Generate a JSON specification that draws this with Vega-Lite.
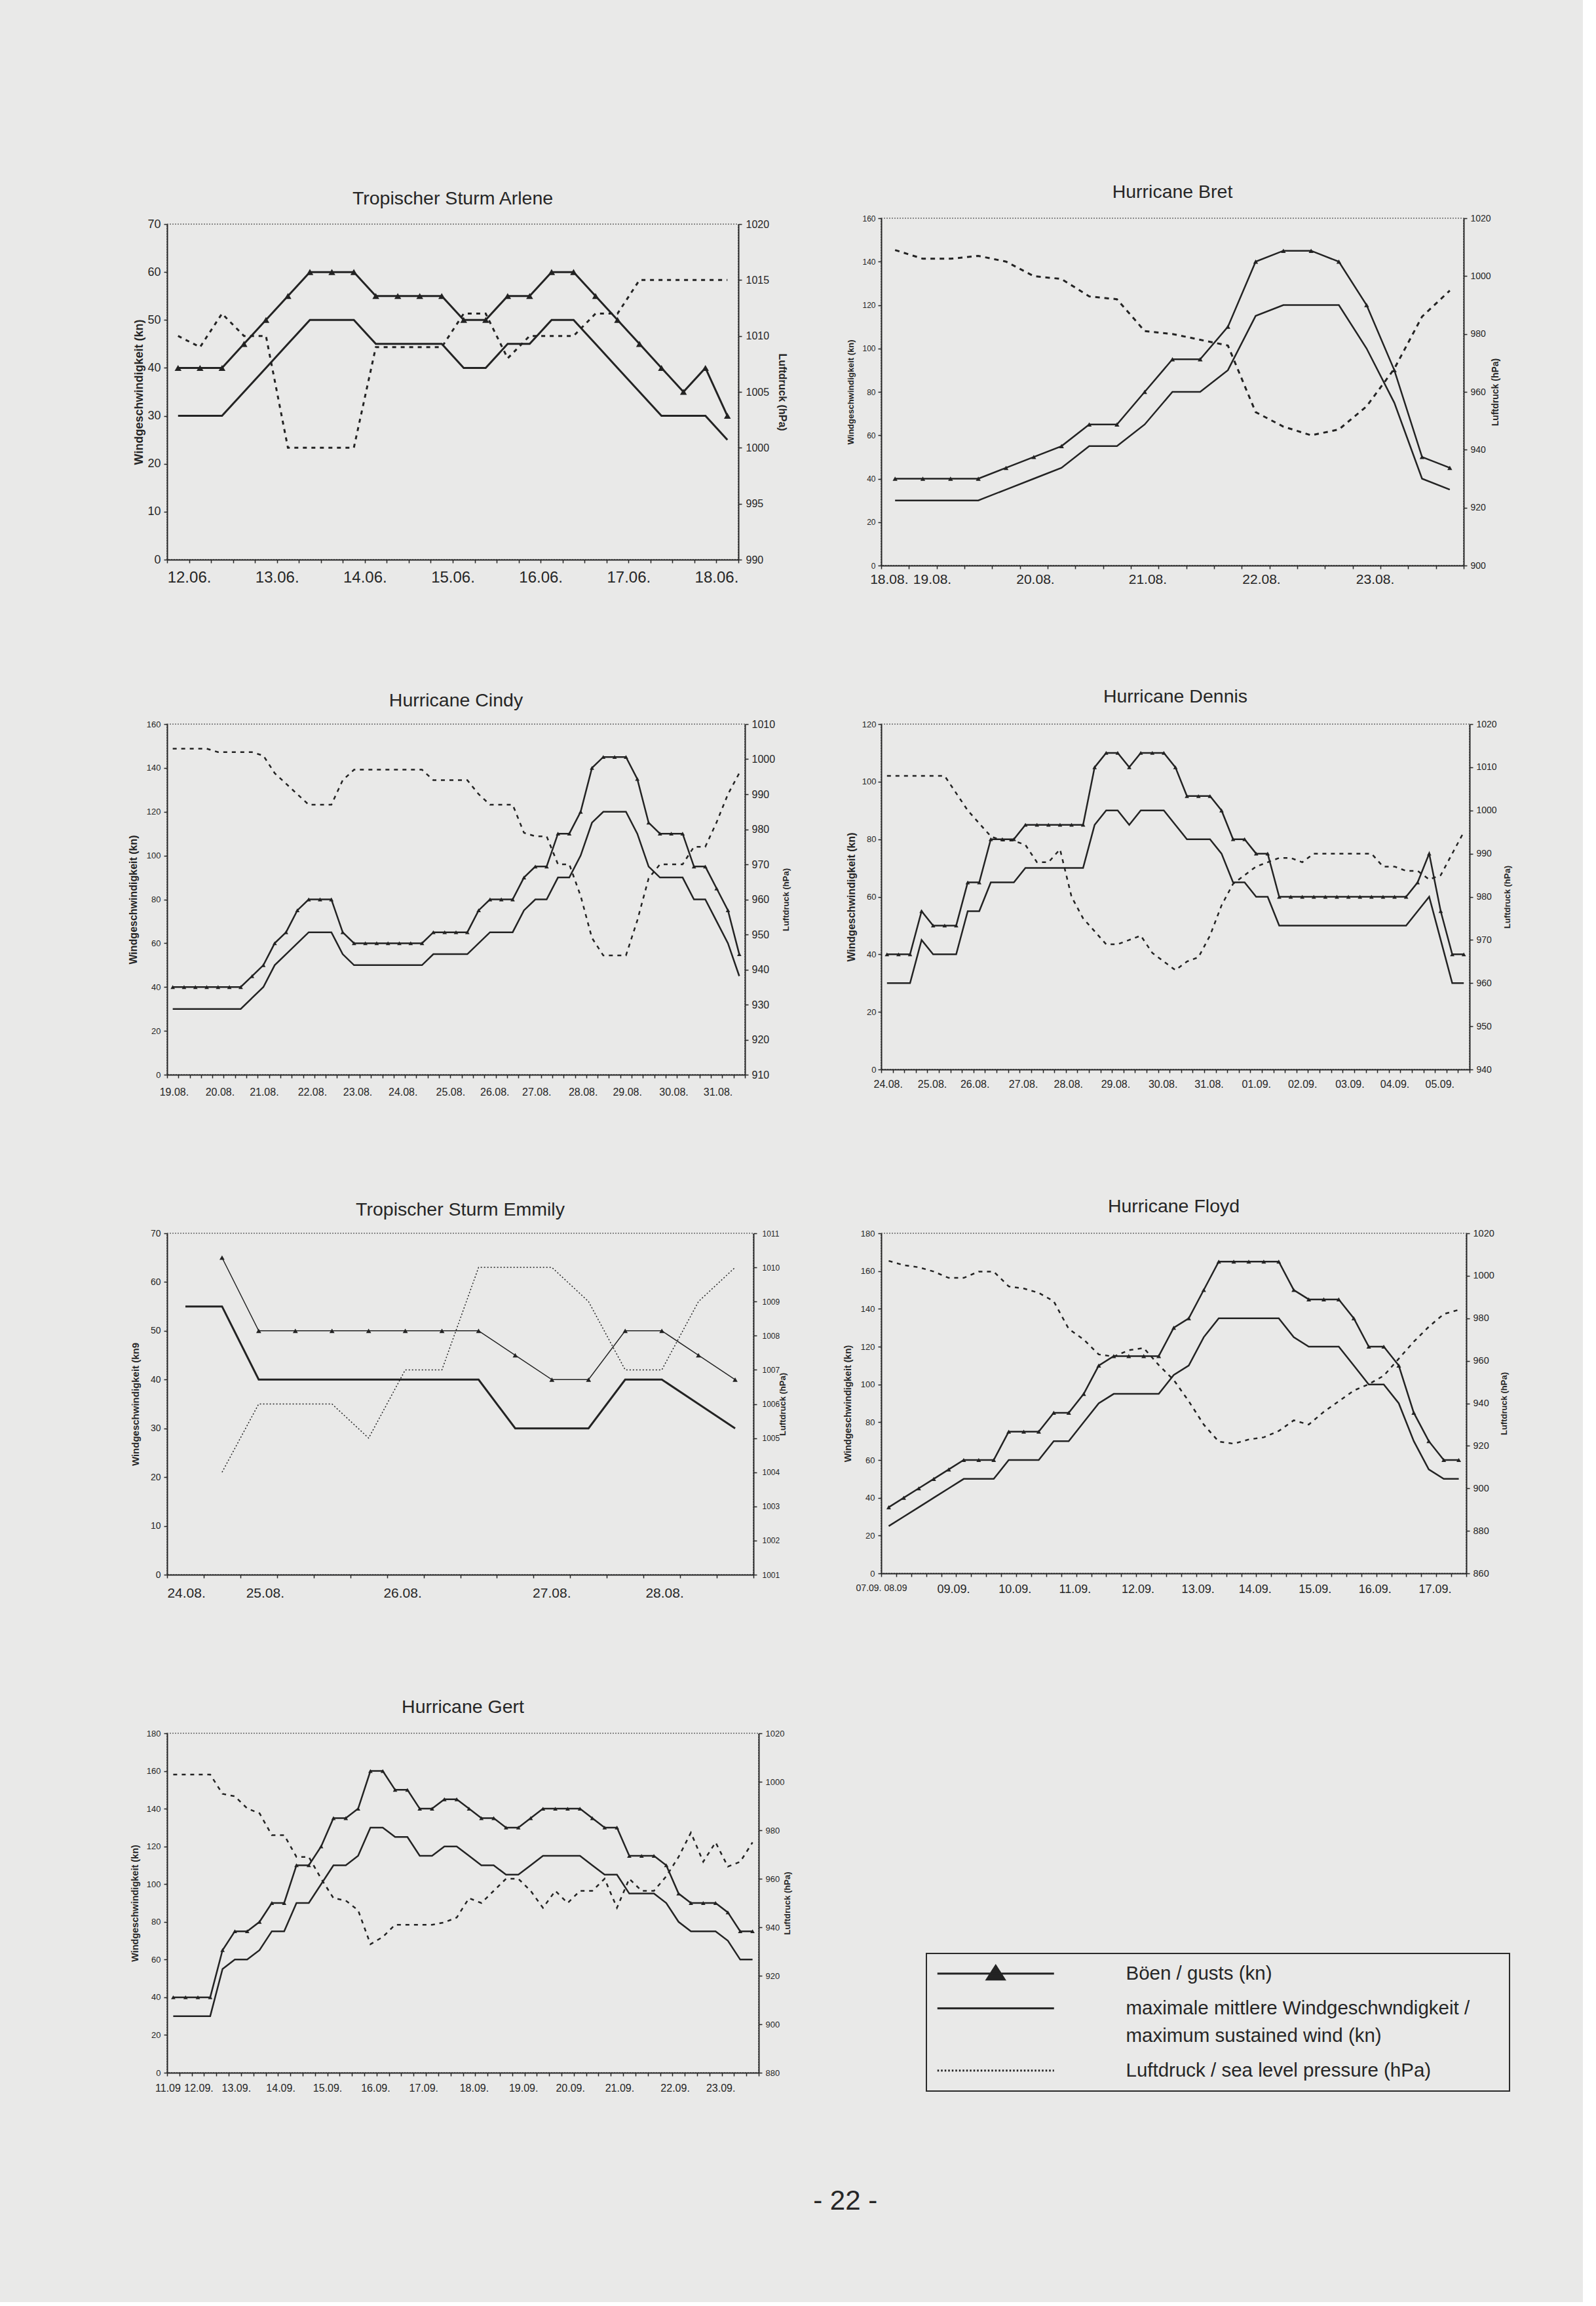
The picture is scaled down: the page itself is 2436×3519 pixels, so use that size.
{
  "$schema": "https://vega.github.io/schema/vega-lite/v6.json",
  "background": "#e9e9e8",
  "padding": {"left": 194, "top": 277, "right": 108, "bottom": 133},
  "bounds": "flush",
  "align": "each",
  "center": {"row": true},
  "columns": 2,
  "spacing": {"row": 242, "column": 187},
  "title": {"text": "- 22 -", "orient": "bottom", "anchor": "middle", "fontSize": 42, "offset": 144, "frame": "bounds", "baseline": "top", "dx": 39},
  "datasets": {
    "arlene": [
      {"t":0,"g":40,"s":30,"p":1010},{"t":1,"g":40,"s":30,"p":1009},{"t":2,"g":40,"s":30,"p":1012},{"t":3,"g":45,"s":35,"p":1010},
      {"t":4,"g":50,"s":40,"p":1010},{"t":5,"g":55,"s":45,"p":1000},{"t":6,"g":60,"s":50,"p":1000},{"t":7,"g":60,"s":50,"p":1000},
      {"t":8,"g":60,"s":50,"p":1000},{"t":9,"g":55,"s":45,"p":1009},{"t":10,"g":55,"s":45,"p":1009},{"t":11,"g":55,"s":45,"p":1009},
      {"t":12,"g":55,"s":45,"p":1009},{"t":13,"g":50,"s":40,"p":1012},{"t":14,"g":50,"s":40,"p":1012},{"t":15,"g":55,"s":45,"p":1008},
      {"t":16,"g":55,"s":45,"p":1010},{"t":17,"g":60,"s":50,"p":1010},{"t":18,"g":60,"s":50,"p":1010},{"t":19,"g":55,"s":45,"p":1012},
      {"t":20,"g":50,"s":40,"p":1012},{"t":21,"g":45,"s":35,"p":1015},{"t":22,"g":40,"s":30,"p":1015},{"t":23,"g":35,"s":30,"p":1015},
      {"t":24,"g":40,"s":30,"p":1015},{"t":25,"g":30,"s":25,"p":1015}
    ],
    "bret": [
      {"t":0,"g":40,"s":30,"p":1009},{"t":1,"g":40,"s":30,"p":1006},{"t":2,"g":40,"s":30,"p":1006},{"t":3,"g":40,"s":30,"p":1007},
      {"t":4,"g":45,"s":35,"p":1005},{"t":5,"g":50,"s":40,"p":1000},{"t":6,"g":55,"s":45,"p":999},{"t":7,"g":65,"s":55,"p":993},
      {"t":8,"g":65,"s":55,"p":992},{"t":9,"g":80,"s":65,"p":981},{"t":10,"g":95,"s":80,"p":980},{"t":11,"g":95,"s":80,"p":978},
      {"t":12,"g":110,"s":90,"p":976},{"t":13,"g":140,"s":115,"p":953},{"t":14,"g":145,"s":120,"p":948},{"t":15,"g":145,"s":120,"p":945},
      {"t":16,"g":140,"s":120,"p":947},{"t":17,"g":120,"s":100,"p":955},{"t":18,"g":90,"s":75,"p":968},{"t":19,"g":50,"s":40,"p":986},
      {"t":20,"g":45,"s":35,"p":995}
    ],
    "cindy": [
      {"t":0,"g":40,"s":30,"p":1003},{"t":1,"g":40,"s":30,"p":1003},{"t":2,"g":40,"s":30,"p":1003},{"t":3,"g":40,"s":30,"p":1003},
      {"t":4,"g":40,"s":30,"p":1002},{"t":5,"g":40,"s":30,"p":1002},{"t":6,"g":40,"s":30,"p":1002},{"t":7,"g":45,"s":35,"p":1002},
      {"t":8,"g":50,"s":40,"p":1001},{"t":9,"g":60,"s":50,"p":996},{"t":10,"g":65,"s":55,"p":993},{"t":11,"g":75,"s":60,"p":990},
      {"t":12,"g":80,"s":65,"p":987},{"t":13,"g":80,"s":65,"p":987},{"t":14,"g":80,"s":65,"p":987},{"t":15,"g":65,"s":55,"p":994},
      {"t":16,"g":60,"s":50,"p":997},{"t":17,"g":60,"s":50,"p":997},{"t":18,"g":60,"s":50,"p":997},{"t":19,"g":60,"s":50,"p":997},
      {"t":20,"g":60,"s":50,"p":997},{"t":21,"g":60,"s":50,"p":997},{"t":22,"g":60,"s":50,"p":997},{"t":23,"g":65,"s":55,"p":994},
      {"t":24,"g":65,"s":55,"p":994},{"t":25,"g":65,"s":55,"p":994},{"t":26,"g":65,"s":55,"p":994},{"t":27,"g":75,"s":60,"p":990},
      {"t":28,"g":80,"s":65,"p":987},{"t":29,"g":80,"s":65,"p":987},{"t":30,"g":80,"s":65,"p":987},{"t":31,"g":90,"s":75,"p":979},
      {"t":32,"g":95,"s":80,"p":978},{"t":33,"g":95,"s":80,"p":978},{"t":34,"g":110,"s":90,"p":970},{"t":35,"g":110,"s":90,"p":970},
      {"t":36,"g":120,"s":100,"p":961},{"t":37,"g":140,"s":115,"p":949},{"t":38,"g":145,"s":120,"p":944},{"t":39,"g":145,"s":120,"p":944},
      {"t":40,"g":145,"s":120,"p":944},{"t":41,"g":135,"s":110,"p":954},{"t":42,"g":115,"s":95,"p":966},{"t":43,"g":110,"s":90,"p":970},
      {"t":44,"g":110,"s":90,"p":970},{"t":45,"g":110,"s":90,"p":970},{"t":46,"g":95,"s":80,"p":975},{"t":47,"g":95,"s":80,"p":975},
      {"t":48,"g":85,"s":70,"p":982},{"t":49,"g":75,"s":60,"p":990},{"t":50,"g":55,"s":45,"p":996}
    ],
    "dennis": [
      {"t":0,"g":40,"s":30,"p":1008},{"t":1,"g":40,"s":30,"p":1008},{"t":2,"g":40,"s":30,"p":1008},{"t":3,"g":55,"s":45,"p":1008},
      {"t":4,"g":50,"s":40,"p":1008},{"t":5,"g":50,"s":40,"p":1008},{"t":6,"g":50,"s":40,"p":1004},{"t":7,"g":65,"s":55,"p":1000},
      {"t":8,"g":65,"s":55,"p":997},{"t":9,"g":80,"s":65,"p":994},{"t":10,"g":80,"s":65,"p":993},{"t":11,"g":80,"s":65,"p":993},
      {"t":12,"g":85,"s":70,"p":992},{"t":13,"g":85,"s":70,"p":988},{"t":14,"g":85,"s":70,"p":988},{"t":15,"g":85,"s":70,"p":991},
      {"t":16,"g":85,"s":70,"p":980},{"t":17,"g":85,"s":70,"p":975},{"t":18,"g":105,"s":85,"p":972},{"t":19,"g":110,"s":90,"p":969},
      {"t":20,"g":110,"s":90,"p":969},{"t":21,"g":105,"s":85,"p":970},{"t":22,"g":110,"s":90,"p":971},{"t":23,"g":110,"s":90,"p":967},
      {"t":24,"g":110,"s":90,"p":965},{"t":25,"g":105,"s":85,"p":963},{"t":26,"g":95,"s":80,"p":965},{"t":27,"g":95,"s":80,"p":966},
      {"t":28,"g":95,"s":80,"p":971},{"t":29,"g":90,"s":75,"p":978},{"t":30,"g":80,"s":65,"p":983},{"t":31,"g":80,"s":65,"p":985},
      {"t":32,"g":75,"s":60,"p":987},{"t":33,"g":75,"s":60,"p":988},{"t":34,"g":60,"s":50,"p":989},{"t":35,"g":60,"s":50,"p":989},
      {"t":36,"g":60,"s":50,"p":988},{"t":37,"g":60,"s":50,"p":990},{"t":38,"g":60,"s":50,"p":990},{"t":39,"g":60,"s":50,"p":990},
      {"t":40,"g":60,"s":50,"p":990},{"t":41,"g":60,"s":50,"p":990},{"t":42,"g":60,"s":50,"p":990},{"t":43,"g":60,"s":50,"p":987},
      {"t":44,"g":60,"s":50,"p":987},{"t":45,"g":60,"s":50,"p":986},{"t":46,"g":65,"s":55,"p":986},{"t":47,"g":75,"s":60,"p":984},
      {"t":48,"g":55,"s":45,"p":985},{"t":49,"g":40,"s":30,"p":990},{"t":50,"g":40,"s":30,"p":995}
    ],
    "emmily": [
      {"t":0,"g":null,"s":55,"p":null},{"t":1,"g":65,"s":55,"p":1004},{"t":2,"g":50,"s":40,"p":1006},{"t":3,"g":50,"s":40,"p":1006},
      {"t":4,"g":50,"s":40,"p":1006},{"t":5,"g":50,"s":40,"p":1005},{"t":6,"g":50,"s":40,"p":1007},{"t":7,"g":50,"s":40,"p":1007},
      {"t":8,"g":50,"s":40,"p":1010},{"t":9,"g":45,"s":30,"p":1010},{"t":10,"g":40,"s":30,"p":1010},{"t":11,"g":40,"s":30,"p":1009},
      {"t":12,"g":50,"s":40,"p":1007},{"t":13,"g":50,"s":40,"p":1007},{"t":14,"g":45,"s":35,"p":1009},{"t":15,"g":40,"s":30,"p":1010}
    ],
    "floyd": [
      {"t":0,"g":35,"s":25,"p":1007},{"t":1,"g":40,"s":30,"p":1005},{"t":2,"g":45,"s":35,"p":1004},{"t":3,"g":50,"s":40,"p":1002},
      {"t":4,"g":55,"s":45,"p":999},{"t":5,"g":60,"s":50,"p":999},{"t":6,"g":60,"s":50,"p":1002},{"t":7,"g":60,"s":50,"p":1002},
      {"t":8,"g":75,"s":60,"p":995},{"t":9,"g":75,"s":60,"p":994},{"t":10,"g":75,"s":60,"p":992},{"t":11,"g":85,"s":70,"p":988},
      {"t":12,"g":85,"s":70,"p":975},{"t":13,"g":95,"s":80,"p":970},{"t":14,"g":110,"s":90,"p":963},{"t":15,"g":115,"s":95,"p":962},
      {"t":16,"g":115,"s":95,"p":965},{"t":17,"g":115,"s":95,"p":966},{"t":18,"g":115,"s":95,"p":958},{"t":19,"g":130,"s":105,"p":951},
      {"t":20,"g":135,"s":110,"p":941},{"t":21,"g":150,"s":125,"p":930},{"t":22,"g":165,"s":135,"p":922},{"t":23,"g":165,"s":135,"p":921},
      {"t":24,"g":165,"s":135,"p":923},{"t":25,"g":165,"s":135,"p":924},{"t":26,"g":165,"s":135,"p":927},{"t":27,"g":150,"s":125,"p":932},
      {"t":28,"g":145,"s":120,"p":930},{"t":29,"g":145,"s":120,"p":936},{"t":30,"g":145,"s":120,"p":941},{"t":31,"g":135,"s":110,"p":946},
      {"t":32,"g":120,"s":100,"p":949},{"t":33,"g":120,"s":100,"p":953},{"t":34,"g":110,"s":90,"p":961},{"t":35,"g":85,"s":70,"p":969},
      {"t":36,"g":70,"s":55,"p":976},{"t":37,"g":60,"s":50,"p":982},{"t":38,"g":60,"s":50,"p":984}
    ],
    "gert": [
      {"t":0,"g":40,"s":30,"p":1003},{"t":1,"g":40,"s":30,"p":1003},{"t":2,"g":40,"s":30,"p":1003},{"t":3,"g":40,"s":30,"p":1003},
      {"t":4,"g":65,"s":55,"p":995},{"t":5,"g":75,"s":60,"p":994},{"t":6,"g":75,"s":60,"p":989},{"t":7,"g":80,"s":65,"p":987},
      {"t":8,"g":90,"s":75,"p":978},{"t":9,"g":90,"s":75,"p":978},{"t":10,"g":110,"s":90,"p":969},{"t":11,"g":110,"s":90,"p":969},
      {"t":12,"g":120,"s":100,"p":960},{"t":13,"g":135,"s":110,"p":952},{"t":14,"g":135,"s":110,"p":951},{"t":15,"g":140,"s":115,"p":947},
      {"t":16,"g":160,"s":130,"p":933},{"t":17,"g":160,"s":130,"p":936},{"t":18,"g":150,"s":125,"p":941},{"t":19,"g":150,"s":125,"p":941},
      {"t":20,"g":140,"s":115,"p":941},{"t":21,"g":140,"s":115,"p":941},{"t":22,"g":145,"s":120,"p":942},{"t":23,"g":145,"s":120,"p":944},
      {"t":24,"g":140,"s":115,"p":952},{"t":25,"g":135,"s":110,"p":950},{"t":26,"g":135,"s":110,"p":955},{"t":27,"g":130,"s":105,"p":960},
      {"t":28,"g":130,"s":105,"p":960},{"t":29,"g":135,"s":110,"p":955},{"t":30,"g":140,"s":115,"p":948},{"t":31,"g":140,"s":115,"p":955},
      {"t":32,"g":140,"s":115,"p":950},{"t":33,"g":140,"s":115,"p":955},{"t":34,"g":135,"s":110,"p":955},{"t":35,"g":130,"s":105,"p":960},
      {"t":36,"g":130,"s":105,"p":948},{"t":37,"g":115,"s":95,"p":960},{"t":38,"g":115,"s":95,"p":955},{"t":39,"g":115,"s":95,"p":955},
      {"t":40,"g":110,"s":90,"p":961},{"t":41,"g":95,"s":80,"p":969},{"t":42,"g":90,"s":75,"p":979},{"t":43,"g":90,"s":75,"p":967},
      {"t":44,"g":90,"s":75,"p":975},{"t":45,"g":85,"s":70,"p":965},{"t":46,"g":75,"s":60,"p":967},{"t":47,"g":75,"s":60,"p":975}
    ]
  },
  "concat": [
    {
      "title": {"text": "Tropischer Sturm Arlene", "offset": 16},
      "width": 872, "height": 512,
      "data": {"name": "arlene"},
      "encoding": {"x": {"field": "t", "type": "quantitative", "scale": {"domain": [-0.5, 25.5], "nice": false, "zero": false},
        "axis": {"title": null, "values": [-0.5,0.5,1.5,2.5,3.5,4.5,5.5,6.5,7.5,8.5,9.5,10.5,11.5,12.5,13.5,14.5,15.5,16.5,17.5,18.5,19.5,20.5,21.5,22.5,23.5,24.5,25.5],
          "labelExpr": "datum.value == 0.5 ? '12.06.' : datum.value == 4.5 ? '13.06.' : datum.value == 8.5 ? '14.06.' : datum.value == 12.5 ? '15.06.' : datum.value == 16.5 ? '16.06.' : datum.value == 20.5 ? '17.06.' : datum.value == 24.5 ? '18.06.' : ''",
          "labelFontSize": 24, "labelPadding": 10,
          "tickOpacity": {"condition": {"test": "abs(datum.value % 1) != 0.5", "value": 0}, "value": 1}}}},
      "layer": [
        {"mark": {"type": "line", "strokeWidth": 3},
         "encoding": {"y": {"field": "s", "type": "quantitative", "scale": {"domain": [0, 70], "nice": false},
           "axis": {"title": "Windgeschwindigkeit (kn)", "values": [0,10,20,30,40,50,60,70], "format": "d", "labelFontSize": 18, "titleFontSize": 18, "titleFontWeight": "bold", "titlePadding": 3, "labelPadding": 5}},
           "color": {"datum": "sust", "type": "nominal", "scale": {"domain": ["gust", "sust", "pres"], "range": ["#232323", "#232323", "#232323"]},
             "legend": {"title": null, "orient": "none", "legendX": 1159, "legendY": 2648, "direction": "vertical",
               "padding": 16, "strokeColor": "#2a2a2a", "symbolSize": 400, "symbolStrokeWidth": 3, "symbolOffset": 75, "labelOffset": 184, "rowPadding": 22,
               "labelFont": "Liberation Sans", "labelFontSize": 29.5, "labelColor": "#262626", "labelLimit": 2000,
               "labelExpr": "datum.value == 'gust' ? 'Böen / gusts (kn)' : datum.value == 'sust' ? ['maximale mittlere Windgeschwndigkeit /\u2800\u2800', 'maximum sustained wind (kn)'] : 'Luftdruck / sea level pressure (hPa)'",
               "encode": {
                 "legend": {"update": {"strokeWidth": {"value": 2}}},
                 "symbols": {"update": {
                   "shape": {"signal": "datum.value == 'gust' ? 'M-8.9,0H8.9M0,-1.2L1.35,0.9L-1.35,0.9Z' : 'M-8.9,0H8.9'"},
                   "fill": {"signal": "datum.value == 'gust' ? '#232323' : 'transparent'"},
                   "stroke": {"value": "#232323"},
                   "strokeDash": {"signal": "datum.value == 'pres' ? [2.5, 3] : [1, 0]"},
                   "opacity": {"value": 1}}},
                 "labels": {"update": {"lineHeight": {"value": 42}}}
               }}}}},
        {"mark": {"type": "line", "strokeWidth": 3},
         "encoding": {"y": {"field": "g", "type": "quantitative", "scale": {"domain": [0, 70], "nice": false}, "axis": null}, "color": {"datum": "gust"}}},
        {"mark": {"type": "point", "shape": "triangle-up", "filled": true, "size": 110, "opacity": 1},
         "encoding": {"y": {"field": "g", "type": "quantitative", "scale": {"domain": [0, 70], "nice": false}, "axis": null}, "color": {"datum": "gust"}}},
        {"mark": {"type": "line", "strokeWidth": 3, "strokeDash": [6, 7]},
         "encoding": {"y": {"field": "p", "type": "quantitative", "scale": {"domain": [990, 1020], "nice": false, "zero": false},
           "axis": {"orient": "right", "title": "Luftdruck (hPa)", "values": [990,995,1000,1005,1010,1015,1020], "format": "d", "labelFontSize": 16, "titleFontSize": 16, "titleFontWeight": "bold", "titleAngle": 90, "titlePadding": 12, "labelPadding": 6}},
           "color": {"datum": "pres"}}}
      ],
      "resolve": {"scale": {"y": "independent"}}
    },
    {
      "title": {"text": "Hurricane Bret", "offset": 19},
      "width": 889, "height": 530,
      "data": {"name": "bret"},
      "encoding": {"x": {"field": "t", "type": "quantitative", "scale": {"domain": [-0.5, 20.5], "nice": false, "zero": false},
        "axis": {"title": null, "values": [-0.5,0.5,1.5,2.5,3.5,4.5,5.5,6.5,7.5,8.5,9.5,10.5,11.5,12.5,13.5,14.5,15.5,16.5,17.5,18.5,19.5,20.5,-0.22,1.33,5.05,9.1,13.2,17.3],
          "labelExpr": "datum.value == -0.22 ? '18.08.' : datum.value == 1.33 ? '19.08.' : datum.value == 5.05 ? '20.08.' : datum.value == 9.1 ? '21.08.' : datum.value == 13.2 ? '22.08.' : datum.value == 17.3 ? '23.08.' : ''",
          "labelFontSize": 21, "labelPadding": 5,
          "tickOpacity": {"condition": {"test": "abs(datum.value % 1) != 0.5", "value": 0}, "value": 1}}}},
      "layer": [
        {"mark": {"type": "line", "strokeWidth": 2.5},
         "encoding": {"y": {"field": "s", "type": "quantitative", "scale": {"domain": [0, 160], "nice": false},
           "axis": {"title": "Windgeschwindigkeit (kn)", "values": [0,20,40,60,80,100,120,140,160], "format": "d", "labelFontSize": 12, "titleFontSize": 13, "titleFontWeight": "bold", "titlePadding": 10, "labelPadding": 4}},
           "color": {"datum": "sust"}}},
        {"mark": {"type": "line", "strokeWidth": 2.5},
         "encoding": {"y": {"field": "g", "type": "quantitative", "scale": {"domain": [0, 160], "nice": false}, "axis": null}, "color": {"datum": "gust"}}},
        {"mark": {"type": "point", "shape": "triangle-up", "filled": true, "size": 55, "opacity": 1},
         "encoding": {"y": {"field": "g", "type": "quantitative", "scale": {"domain": [0, 160], "nice": false}, "axis": null}, "color": {"datum": "gust"}}},
        {"mark": {"type": "line", "strokeWidth": 3, "strokeDash": [7, 7]},
         "encoding": {"y": {"field": "p", "type": "quantitative", "scale": {"domain": [900, 1020], "nice": false, "zero": false},
           "axis": {"orient": "right", "title": "Luftdruck (hPa)", "values": [900,920,940,960,980,1000,1020], "format": "d", "labelFontSize": 14, "titleFontSize": 14, "titleFontWeight": "bold", "titleAngle": 270, "titlePadding": 14, "labelPadding": 5}},
           "color": {"datum": "pres"}}}
      ],
      "resolve": {"scale": {"y": "independent"}}
    },
    {
      "title": {"text": "Hurricane Cindy", "offset": 14},
      "width": 882, "height": 535,
      "data": {"name": "cindy"},
      "encoding": {"x": {"field": "t", "type": "quantitative", "scale": {"domain": [-0.5, 50.5], "nice": false, "zero": false},
        "axis": {"title": null, "values": [-0.5,0.5,1.5,2.5,3.5,4.5,5.5,6.5,7.5,8.5,9.5,10.5,11.5,12.5,13.5,14.5,15.5,16.5,17.5,18.5,19.5,20.5,21.5,22.5,23.5,24.5,25.5,26.5,27.5,28.5,29.5,30.5,31.5,32.5,33.5,34.5,35.5,36.5,37.5,38.5,39.5,40.5,41.5,42.5,43.5,44.5,45.5,46.5,47.5,48.5,49.5,50.5,0.1,4.15,8.05,12.3,16.3,20.3,28.4,32.1,36.2,40.1,44.2,48.1],
          "labelExpr": "datum.value == 0.1 ? '19.08.' : datum.value == 4.15 ? '20.08.' : datum.value == 8.05 ? '21.08.' : datum.value == 12.3 ? '22.08.' : datum.value == 16.3 ? '23.08.' : datum.value == 20.3 ? '24.08.' : datum.value == 24.5 ? '25.08.' : datum.value == 28.4 ? '26.08.' : datum.value == 32.1 ? '27.08.' : datum.value == 36.2 ? '28.08.' : datum.value == 40.1 ? '29.08.' : datum.value == 44.2 ? '30.08.' : datum.value == 48.1 ? '31.08.' : ''",
          "labelFontSize": 16, "labelPadding": 13,
          "tickOpacity": {"condition": {"test": "abs(datum.value % 1) != 0.5", "value": 0}, "value": 1}}}},
      "layer": [
        {"mark": {"type": "line", "strokeWidth": 2.5},
         "encoding": {"y": {"field": "s", "type": "quantitative", "scale": {"domain": [0, 160], "nice": false},
           "axis": {"title": "Windgeschwindigkeit (kn)", "values": [0,20,40,60,80,100,120,140,160], "format": "d", "labelFontSize": 13, "titleFontSize": 16, "titleFontWeight": "bold", "titlePadding": 12, "labelPadding": 5}},
           "color": {"datum": "sust"}}},
        {"mark": {"type": "line", "strokeWidth": 2.5},
         "encoding": {"y": {"field": "g", "type": "quantitative", "scale": {"domain": [0, 160], "nice": false}, "axis": null}, "color": {"datum": "gust"}}},
        {"mark": {"type": "point", "shape": "triangle-up", "filled": true, "size": 45, "opacity": 1},
         "encoding": {"y": {"field": "g", "type": "quantitative", "scale": {"domain": [0, 160], "nice": false}, "axis": null}, "color": {"datum": "gust"}}},
        {"mark": {"type": "line", "strokeWidth": 2.5, "strokeDash": [6, 7]},
         "encoding": {"y": {"field": "p", "type": "quantitative", "scale": {"domain": [910, 1010], "nice": false, "zero": false},
           "axis": {"orient": "right", "title": "Luftdruck (hPa)", "values": [910,920,930,940,950,960,970,980,990,1000,1010], "format": "d", "labelFontSize": 16, "titleFontSize": 13, "titleFontWeight": "bold", "titleAngle": 270, "titlePadding": 24, "labelPadding": 5}},
           "color": {"datum": "pres"}}}
      ],
      "resolve": {"scale": {"y": "independent"}}
    },
    {
      "title": {"text": "Hurricane Dennis", "offset": 21},
      "width": 898, "height": 527,
      "data": {"name": "dennis"},
      "encoding": {"x": {"field": "t", "type": "quantitative", "scale": {"domain": [-0.5, 50.5], "nice": false, "zero": false},
        "axis": {"title": null, "values": [-0.5,0.5,1.5,2.5,3.5,4.5,5.5,6.5,7.5,8.5,9.5,10.5,11.5,12.5,13.5,14.5,15.5,16.5,17.5,18.5,19.5,20.5,21.5,22.5,23.5,24.5,25.5,26.5,27.5,28.5,29.5,30.5,31.5,32.5,33.5,34.5,35.5,36.5,37.5,38.5,39.5,40.5,41.5,42.5,43.5,44.5,45.5,46.5,47.5,48.5,49.5,50.5,0.08,3.9,7.6,11.8,15.7,19.8,23.9,27.9,32,36,40.1,44,47.9],
          "labelExpr": "datum.value == 0.08 ? '24.08.' : datum.value == 3.9 ? '25.08.' : datum.value == 7.6 ? '26.08.' : datum.value == 11.8 ? '27.08.' : datum.value == 15.7 ? '28.08.' : datum.value == 19.8 ? '29.08.' : datum.value == 23.9 ? '30.08.' : datum.value == 27.9 ? '31.08.' : datum.value == 32 ? '01.09.' : datum.value == 36 ? '02.09.' : datum.value == 40.1 ? '03.09.' : datum.value == 44 ? '04.09.' : datum.value == 47.9 ? '05.09.' : ''",
          "labelFontSize": 16, "labelPadding": 9,
          "tickOpacity": {"condition": {"test": "abs(datum.value % 1) != 0.5", "value": 0}, "value": 1}}}},
      "layer": [
        {"mark": {"type": "line", "strokeWidth": 2.5},
         "encoding": {"y": {"field": "s", "type": "quantitative", "scale": {"domain": [0, 120], "nice": false},
           "axis": {"title": "Windgeschwindigkeit (kn)", "values": [0,20,40,60,80,100,120], "format": "d", "labelFontSize": 13, "titleFontSize": 16, "titleFontWeight": "bold", "titlePadding": 8, "labelPadding": 3}},
           "color": {"datum": "sust"}}},
        {"mark": {"type": "line", "strokeWidth": 2.5},
         "encoding": {"y": {"field": "g", "type": "quantitative", "scale": {"domain": [0, 120], "nice": false}, "axis": null}, "color": {"datum": "gust"}}},
        {"mark": {"type": "point", "shape": "triangle-up", "filled": true, "size": 45, "opacity": 1},
         "encoding": {"y": {"field": "g", "type": "quantitative", "scale": {"domain": [0, 120], "nice": false}, "axis": null}, "color": {"datum": "gust"}}},
        {"mark": {"type": "line", "strokeWidth": 2.5, "strokeDash": [6, 7]},
         "encoding": {"y": {"field": "p", "type": "quantitative", "scale": {"domain": [940, 1020], "nice": false, "zero": false},
           "axis": {"orient": "right", "title": "Luftdruck (hPa)", "values": [940,950,960,970,980,990,1000,1010,1020], "format": "d", "labelFontSize": 14, "titleFontSize": 13, "titleFontWeight": "bold", "titleAngle": 270, "titlePadding": 23, "labelPadding": 5}},
           "color": {"datum": "pres"}}}
      ],
      "resolve": {"scale": {"y": "independent"}}
    },
    {
      "title": {"text": "Tropischer Sturm Emmily", "offset": 15},
      "width": 895, "height": 521,
      "data": {"name": "emmily"},
      "encoding": {"x": {"field": "t", "type": "quantitative", "scale": {"domain": [-0.5, 15.5], "nice": false, "zero": false},
        "axis": {"title": null, "values": [-0.5,0.5,1.5,2.5,3.5,4.5,5.5,6.5,7.5,8.5,9.5,10.5,11.5,12.5,13.5,14.5,15.5,0.02,2.17,5.92,9.99,13.07],
          "labelExpr": "datum.value == 0.02 ? '24.08.' : datum.value == 2.17 ? '25.08.' : datum.value == 5.92 ? '26.08.' : datum.value == 9.99 ? '27.08.' : datum.value == 13.07 ? '28.08.' : ''",
          "labelFontSize": 21, "labelPadding": 12,
          "tickOpacity": {"condition": {"test": "abs(datum.value % 1) != 0.5", "value": 0}, "value": 1}}}},
      "layer": [
        {"mark": {"type": "line", "strokeWidth": 3},
         "encoding": {"y": {"field": "s", "type": "quantitative", "scale": {"domain": [0, 70], "nice": false},
           "axis": {"title": "Windgeschwindigkeit (kn9", "values": [0,10,20,30,40,50,60,70], "format": "d", "labelFontSize": 14, "titleFontSize": 15, "titleFontWeight": "bold", "titlePadding": 15, "labelPadding": 5}},
           "color": {"datum": "sust"}}},
        {"mark": {"type": "line", "strokeWidth": 1.5},
         "encoding": {"y": {"field": "g", "type": "quantitative", "scale": {"domain": [0, 70], "nice": false}, "axis": null}, "color": {"datum": "gust"}}},
        {"mark": {"type": "point", "shape": "triangle-up", "filled": true, "size": 60, "opacity": 1},
         "encoding": {"y": {"field": "g", "type": "quantitative", "scale": {"domain": [0, 70], "nice": false}, "axis": null}, "color": {"datum": "gust"}}},
        {"mark": {"type": "line", "strokeWidth": 1.5, "strokeDash": [2, 3]},
         "encoding": {"y": {"field": "p", "type": "quantitative", "scale": {"domain": [1001, 1011], "nice": false, "zero": false},
           "axis": {"orient": "right", "title": "Luftdruck (hPa)", "values": [1001,1002,1003,1004,1005,1006,1007,1008,1009,1010,1011], "format": "d", "labelFontSize": 12, "titleFontSize": 13, "titleFontWeight": "bold", "titleAngle": 270, "titlePadding": 12, "labelPadding": 8}},
           "color": {"datum": "pres"}}}
      ],
      "resolve": {"scale": {"y": "independent"}}
    },
    {
      "title": {"text": "Hurricane Floyd", "offset": 19},
      "width": 893, "height": 519,
      "data": {"name": "floyd"},
      "encoding": {"x": {"field": "t", "type": "quantitative", "scale": {"domain": [-0.5, 38.5], "nice": false, "zero": false},
        "axis": {"title": null, "values": [-0.5,0.5,1.5,2.5,3.5,4.5,5.5,6.5,7.5,8.5,9.5,10.5,11.5,12.5,13.5,14.5,15.5,16.5,17.5,18.5,19.5,20.5,21.5,22.5,23.5,24.5,25.5,26.5,27.5,28.5,29.5,30.5,31.5,32.5,33.5,34.5,35.5,36.5,37.5,38.5,4.3,8.4,12.4,16.6,20.6,24.4,28.4,32.4,36.4],
          "labelExpr": "datum.value == -0.5 ? '07.09. 08.09' : datum.value == 4.3 ? '09.09.' : datum.value == 8.4 ? '10.09.' : datum.value == 12.4 ? '11.09.' : datum.value == 16.6 ? '12.09.' : datum.value == 20.6 ? '13.09.' : datum.value == 24.4 ? '14.09.' : datum.value == 28.4 ? '15.09.' : datum.value == 32.4 ? '16.09.' : datum.value == 36.4 ? '17.09.' : ''",
          "labelFontSize": {"condition": {"test": "datum.value == -0.5", "value": 14}, "value": 18}, "labelPadding": 10,
          "tickOpacity": {"condition": {"test": "abs(datum.value % 1) != 0.5", "value": 0}, "value": 1}}}},
      "layer": [
        {"mark": {"type": "line", "strokeWidth": 2.5},
         "encoding": {"y": {"field": "s", "type": "quantitative", "scale": {"domain": [0, 180], "nice": false},
           "axis": {"title": "Windgeschwindigkeit (kn)", "values": [0,20,40,60,80,100,120,140,160,180], "format": "d", "labelFontSize": 13, "titleFontSize": 14.5, "titleFontWeight": "bold", "titlePadding": 12, "labelPadding": 5}},
           "color": {"datum": "sust"}}},
        {"mark": {"type": "line", "strokeWidth": 2.5},
         "encoding": {"y": {"field": "g", "type": "quantitative", "scale": {"domain": [0, 180], "nice": false}, "axis": null}, "color": {"datum": "gust"}}},
        {"mark": {"type": "point", "shape": "triangle-up", "filled": true, "size": 50, "opacity": 1},
         "encoding": {"y": {"field": "g", "type": "quantitative", "scale": {"domain": [0, 180], "nice": false}, "axis": null}, "color": {"datum": "gust"}}},
        {"mark": {"type": "line", "strokeWidth": 2.5, "strokeDash": [6, 7]},
         "encoding": {"y": {"field": "p", "type": "quantitative", "scale": {"domain": [860, 1020], "nice": false, "zero": false},
           "axis": {"orient": "right", "title": "Luftdruck (hPa)", "values": [860,880,900,920,940,960,980,1000,1020], "format": "d", "labelFontSize": 14.5, "titleFontSize": 13, "titleFontWeight": "bold", "titleAngle": 270, "titlePadding": 22, "labelPadding": 5}},
           "color": {"datum": "pres"}}}
      ],
      "resolve": {"scale": {"y": "independent"}}
    },
    {
      "title": {"text": "Hurricane Gert", "offset": 20},
      "width": 903, "height": 518,
      "data": {"name": "gert"},
      "encoding": {"x": {"field": "t", "type": "quantitative", "scale": {"domain": [-0.5, 47.5], "nice": false, "zero": false},
        "axis": {"title": null, "values": [-0.5,0.5,1.5,2.5,3.5,4.5,5.5,6.5,7.5,8.5,9.5,10.5,11.5,12.5,13.5,14.5,15.5,16.5,17.5,18.5,19.5,20.5,21.5,22.5,23.5,24.5,25.5,26.5,27.5,28.5,29.5,30.5,31.5,32.5,33.5,34.5,35.5,36.5,37.5,38.5,39.5,40.5,41.5,42.5,43.5,44.5,45.5,46.5,47.5,-0.45,2.05,5.1,8.7,16.4,20.3,24.4,28.4,32.2,36.2,40.7,44.4],
          "labelExpr": "datum.value == -0.45 ? '11.09' : datum.value == 2.05 ? '12.09.' : datum.value == 5.1 ? '13.09.' : datum.value == 8.7 ? '14.09.' : datum.value == 12.5 ? '15.09.' : datum.value == 16.4 ? '16.09.' : datum.value == 20.3 ? '17.09.' : datum.value == 24.4 ? '18.09.' : datum.value == 28.4 ? '19.09.' : datum.value == 32.2 ? '20.09.' : datum.value == 36.2 ? '21.09.' : datum.value == 40.7 ? '22.09.' : datum.value == 44.4 ? '23.09.' : ''",
          "labelFontSize": 16, "labelPadding": 10,
          "tickOpacity": {"condition": {"test": "abs(datum.value % 1) != 0.5", "value": 0}, "value": 1}}}},
      "layer": [
        {"mark": {"type": "line", "strokeWidth": 2.5},
         "encoding": {"y": {"field": "s", "type": "quantitative", "scale": {"domain": [0, 180], "nice": false},
           "axis": {"title": "Windgeschwindigkeit (kn)", "values": [0,20,40,60,80,100,120,140,160,180], "format": "d", "labelFontSize": 13, "titleFontSize": 14.5, "titleFontWeight": "bold", "titlePadding": 10, "labelPadding": 5}},
           "color": {"datum": "sust"}}},
        {"mark": {"type": "line", "strokeWidth": 2.5},
         "encoding": {"y": {"field": "g", "type": "quantitative", "scale": {"domain": [0, 180], "nice": false}, "axis": null}, "color": {"datum": "gust"}}},
        {"mark": {"type": "point", "shape": "triangle-up", "filled": true, "size": 45, "opacity": 1},
         "encoding": {"y": {"field": "g", "type": "quantitative", "scale": {"domain": [0, 180], "nice": false}, "axis": null}, "color": {"datum": "gust"}}},
        {"mark": {"type": "line", "strokeWidth": 2.5, "strokeDash": [6, 7]},
         "encoding": {"y": {"field": "p", "type": "quantitative", "scale": {"domain": [880, 1020], "nice": false, "zero": false},
           "axis": {"orient": "right", "title": "Luftdruck (hPa)", "values": [880,900,920,940,960,980,1000,1020], "format": "d", "labelFontSize": 13, "titleFontSize": 13, "titleFontWeight": "bold", "titleAngle": 270, "titlePadding": 12, "labelPadding": 5}},
           "color": {"datum": "pres"}}}
      ],
      "resolve": {"scale": {"y": "independent"}}
    }
  ],
  "config": {
    "font": "Liberation Sans",
    "view": {"stroke": "#6a6a6a", "strokeDash": [2, 2], "strokeWidth": 1.5},
    "axis": {"grid": false, "domainColor": "#262626", "domainWidth": 2, "tickColor": "#262626", "tickWidth": 1.5, "tickSize": 5,
      "labelColor": "#262626", "titleColor": "#262626", "labelFont": "Liberation Sans", "titleFont": "Liberation Sans",
      "labelOverlap": false, "labelFlush": false},
    "title": {"font": "Liberation Sans", "fontSize": 28.5, "fontWeight": "normal", "color": "#262626", "anchor": "middle", "frame": "group", "baseline": "alphabetic"}
  }
}
